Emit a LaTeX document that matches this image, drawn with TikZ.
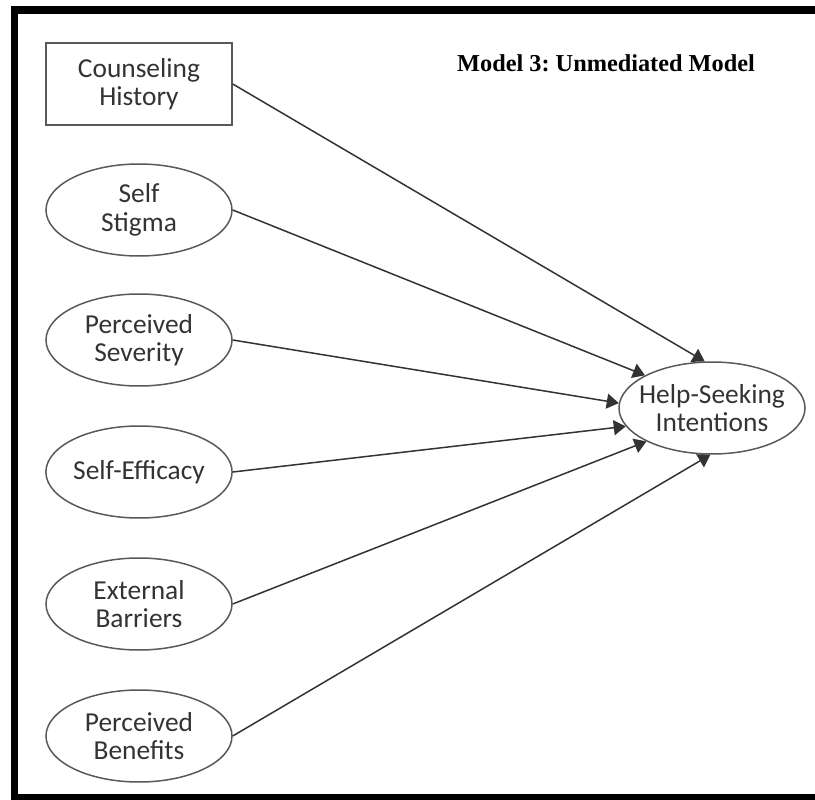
\documentclass[tikz,border=0pt]{standalone}
\usepackage{fontspec}
\setmainfont{Carlito}
\newfontfamily\titlefont{Liberation Serif}
\usetikzlibrary{shapes.geometric,arrows.meta}
\frenchspacing

\tikzset{>={Triangle[length=12pt,width=15pt]},
             box/.style={draw=black!65, line width=1.5pt, minimum width=186pt, minimum height=82pt,
                         align=center, text=black!80, font=\fontsize{27.4}{28.5}\selectfont},
          latent/.style={box, ellipse, inner sep=0pt, minimum height=92pt},
          effect/.style={draw=black!80, line width=1.5pt, ->},
          heading/.style={font=\titlefont\bfseries\fontsize{24.3}{26}\selectfont}}

\begin{document}
\begin{tikzpicture}[x=1pt, y=-1pt]
        \useasboundingbox (0,0) rectangle (815,800);
        \clip (0,0) rectangle (815,800);
        \draw[line width=7.5pt] (14.5,10) rectangle (840,798);

        \node[heading] at (606, 63) (title) {Model 3: Unmediated Model};

        \node[box]    at (139, 84) (history)  {Counseling\\History};
        \node[latent] at (139,210) (stigma)   {Self\\Stigma};
        \node[latent] at (139,340) (severity) {Perceived\\Severity};
        \node[latent] at (139,472) (efficacy) {Self-Efficacy};
        \node[latent] at (139,604) (barriers) {External\\Barriers};
        \node[latent] at (139,736) (benefits) {Perceived\\Benefits};

        \node[latent, inner xsep=-8pt] at (712,408) (intentions) {Help-Seeking\\Intentions};

        \draw[effect] (history.east)  -- (intentions.99);
        \draw[effect] (stigma.east)   -- (intentions.154);
        \draw[effect] (severity.east) -- (intentions.177);
        \draw[effect] (efficacy.east) -- (intentions.192);
        \draw[effect] (barriers.east) -- (intentions.207);
        \draw[effect] (benefits.east) -- (intentions.268);
    \end{tikzpicture}
\end{document}
